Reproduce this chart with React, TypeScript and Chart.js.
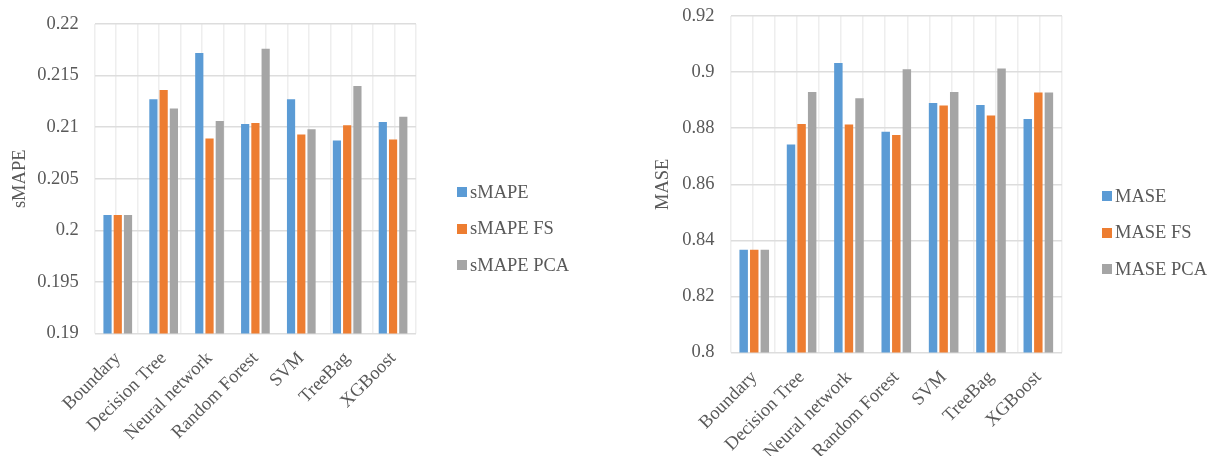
import React, { useEffect, useRef } from "react";
import { Chart, registerables } from "chart.js";

Chart.register(...registerables);

const categories = ["Boundary", "Decision Tree", "Neural network", "Random Forest", "SVM", "TreeBag", "XGBoost"];

const smape = [0.2015, 0.2127, 0.2172, 0.2103, 0.2127, 0.2087, 0.2105];
const smapeFS = [0.2015, 0.2136, 0.2089, 0.2104, 0.2093, 0.2102, 0.2088];
const smapePCA = [0.2015, 0.2118, 0.2106, 0.2176, 0.2098, 0.214, 0.211];

const mase = [0.8367, 0.8742, 0.9032, 0.8787, 0.889, 0.8883, 0.8833];
const maseFS = [0.8367, 0.8815, 0.8813, 0.8776, 0.8881, 0.8845, 0.8927];
const masePCA = [0.8367, 0.8929, 0.8907, 0.901, 0.8929, 0.9013, 0.8927];

const smapeNames = ["sMAPE", "sMAPE FS", "sMAPE PCA"];
const maseNames = ["MASE", "MASE FS", "MASE PCA"];

const COLORS = ["#5B9BD5", "#ED7D31", "#A5A5A5"];
const TEXT = "#595959";
const FAMILY = "'Liberation Serif', 'Times New Roman', serif";
const FONT = { family: FAMILY, size: 18.5 };

type Cfg = {
  series: number[][];
  names: string[];
  title: string;
  min: number;
  max: number;
  step: number;
  padding: { left: number; right: number; top: number; bottom: number };
  titlePad: { top: number; bottom: number };
};

function makeConfig(c: Cfg): any {
  return {
    type: "bar",
    data: {
      labels: categories,
      datasets: c.series.map((s, i) => ({
        label: c.names[i],
        data: s,
        backgroundColor: COLORS[i],
        borderWidth: 0,
        categoryPercentage: 0.67,
        barPercentage: 0.8,
        xAxisID: "x",
        yAxisID: "y",
      })),
    },
    options: {
      responsive: false,
      animation: false,
      layout: { padding: c.padding },
      plugins: {
        legend: { display: false },
        tooltip: { enabled: false },
      },
      scales: {
        x: {
          type: "category",
          position: "bottom",
          grid: { display: false },
          border: { display: false },
          ticks: {
            color: TEXT,
            font: FONT,
            maxRotation: 45,
            minRotation: 45,
            padding: 6,
          },
        },
        xg: {
          type: "linear",
          position: "top",
          min: 0,
          max: 14,
          grid: { color: "#EEEEEE", lineWidth: 1.5, drawTicks: false },
          border: { display: false },
          ticks: { display: false, stepSize: 1 },
        },
        y: {
          min: c.min,
          max: c.max,
          grid: {
            color: "#DDDDDD",
            lineWidth: 1.5,
            drawTicks: true,
            tickLength: 14,
            tickColor: "rgba(0,0,0,0)",
          },
          border: { display: false },
          ticks: {
            stepSize: c.step,
            color: TEXT,
            font: FONT,
            padding: 2,
            callback: (v: number) => String(Number(Number(v).toFixed(4))),
          },
          title: {
            display: true,
            text: c.title,
            color: TEXT,
            font: FONT,
            padding: c.titlePad,
          },
        },
      },
    },
  };
}

function ChartBox({ cfg, left, width, height }: { cfg: Cfg; left: number; width: number; height: number }) {
  const ref = useRef<HTMLCanvasElement>(null);
  useEffect(() => {
    if (!ref.current) return;
    const chart = new Chart(ref.current, makeConfig(cfg));
    return () => chart.destroy();
  }, []);
  return (
    <canvas
      ref={ref}
      width={width}
      height={height}
      style={{ position: "absolute", left, top: 0, width, height, display: "block" }}
    />
  );
}

function Legend({ names, left, top, gap }: { names: string[]; left: number; top: number; gap: number }) {
  return (
    <div style={{ position: "absolute", left, top }}>
      {names.map((n, i) => (
        <div
          key={n}
          style={{
            position: "absolute",
            left: 0,
            top: i * gap - 12,
            height: 24,
            display: "flex",
            alignItems: "center",
            whiteSpace: "nowrap",
            fontFamily: FAMILY,
            fontSize: 18.5,
            color: TEXT,
          }}
        >
          <span style={{ display: "inline-block", width: 10, height: 10, background: COLORS[i], marginRight: 3 }} />
          <span>{n}</span>
        </div>
      ))}
    </div>
  );
}

const leftCfg: Cfg = {
  series: [smape, smapeFS, smapePCA],
  names: smapeNames,
  title: "sMAPE",
  min: 0.19,
  max: 0.22,
  step: 0.005,
  padding: { left: 5, right: 184, top: 24, bottom: 5 },
  titlePad: { top: 4, bottom: 4 },
};

const rightCfg: Cfg = {
  series: [mase, maseFS, masePCA],
  names: maseNames,
  title: "MASE",
  min: 0.8,
  max: 0.92,
  step: 0.02,
  padding: { left: 48, right: 157, top: 16, bottom: 0 },
  titlePad: { top: 4, bottom: 6 },
};

export default function App() {
  return (
    <div style={{ position: "absolute", left: 0, top: 0, width: 1219, height: 456, background: "#fff", overflow: "hidden" }}>
      <ChartBox cfg={leftCfg} left={0} width={600} height={456} />
      <ChartBox cfg={rightCfg} left={600} width={619} height={470} />
      <Legend names={smapeNames} left={457} top={192} gap={36.5} />
      <Legend names={maseNames} left={1102} top={196} gap={36.5} />
    </div>
  );
}
